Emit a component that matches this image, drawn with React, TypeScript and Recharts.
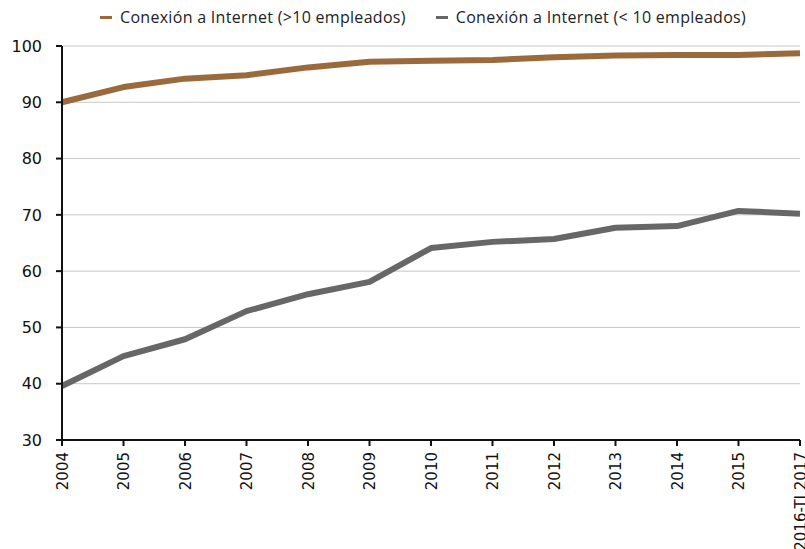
import { CartesianGrid, Line, LineChart, XAxis, YAxis } from "recharts";

const years = ["2004", "2005", "2006", "2007", "2008", "2009", "2010", "2011", "2012", "2013", "2014", "2015", "2016-TI 2017"];
const largeFirms = [90.0, 92.7, 94.2, 94.8, 96.2, 97.2, 97.4, 97.5, 98.0, 98.3, 98.4, 98.4, 98.7];
const smallFirms = [39.6, 44.9, 47.9, 52.9, 55.9, 58.1, 64.1, 65.2, 65.7, 67.7, 68.0, 70.7, 70.2];
const yTicks = [30, 40, 50, 60, 70, 80, 90, 100];

const LARGE = "Conexión a Internet (>10 empleados)";
const SMALL = "Conexión a Internet (< 10 empleados)";

const data = years.map((y, i) => ({
    year: y,
    large: largeFirms[i],
    small: smallFirms[i],
}));

const font = "'DejaVu Sans', sans-serif";

const legendItems = [
    { label: LARGE, color: "#9a6a3d" },
    { label: SMALL, color: "#666766" },
];

export default function App() {
    return (
        <div style={{ position: "absolute", left: 0, top: 0, width: 805, height: 549, background: "#fff" }}>
            <div style={{ position: "absolute", top: 6, left: 100, display: "flex", gap: 30, fontFamily: "'Open Sans', sans-serif", fontSize: 16, letterSpacing: 0.3, color: "#222", lineHeight: "22px" }}>
                {legendItems.map(item => (
                    <div key={item.label} style={{ display: "flex", alignItems: "center" }}>
                        <span style={{ display: "inline-block", width: 12, height: 3, background: item.color, marginRight: 8 }}></span>
                        {item.label}
                    </div>
                ))}
            </div>
            <LineChart width={805} height={549} data={data} margin={{ top: 46, right: 5, left: 0, bottom: 0 }}>
                <CartesianGrid vertical={false} stroke="#c8c8c8" />
                <XAxis
                    dataKey="year"
                    interval={0}
                    height={109}
                    stroke="#111"
                    strokeWidth={2}
                    tickSize={6}
                    angle={-90}
                    textAnchor="end"
                    tick={{ fill: "#111", fontSize: 15, fontFamily: font, dx: -5, dy: 4 }}
                />
                <YAxis
                    domain={[30, 100]}
                    ticks={yTicks}
                    width={62}
                    stroke="#111"
                    strokeWidth={2}
                    tickSize={6}
                    tick={{ fill: "#111", fontSize: 16, fontFamily: font, dx: -12 }}
                />
                <Line type="linear" dataKey="large" name={LARGE} stroke="#9a6a3d" strokeWidth={6} dot={false} isAnimationActive={false} strokeLinejoin="round" />
                <Line type="linear" dataKey="small" name={SMALL} stroke="#666766" strokeWidth={6} dot={false} isAnimationActive={false} strokeLinejoin="round" />
            </LineChart>
        </div>
    );
}
